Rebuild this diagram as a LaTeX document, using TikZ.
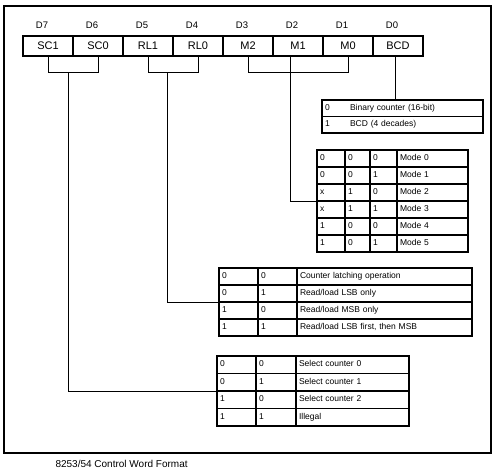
\documentclass[tikz,border=0pt]{standalone}
\usepackage{fontspec}
\setmainfont{Liberation Sans}
\usetikzlibrary{positioning,calc}

\tikzset{
  reg/.style={draw, line width=1.2pt, minimum width=50pt, minimum height=20pt, inner sep=0pt, outer sep=0pt, font=\fontsize{11}{13}\selectfont},
  bitlbl/.style={font=\fontsize{9.5}{11}\selectfont, inner sep=0pt},
  cell/.style={draw, line width=1.6pt, outer sep=0pt, minimum height=17pt, inner xsep=3pt, inner ysep=0pt, anchor=north west, align=left, text height=6.2pt, text depth=1.8pt, font=\fontsize{8.5}{10}\selectfont},
  wire/.style={line width=0.9pt},
}

\begin{document}
\begin{tikzpicture}[x=1pt,y=-1pt,node distance=50pt]
        \useasboundingbox (0,0) rectangle (497,471);
        \draw[line width=1.5pt] (4,6) rectangle (491,453);

        % control word register
        \node[reg] (sc1) at (48,46) {SC1};
        \node[reg, right of=sc1] (sc0) {SC0};
        \node[reg, right of=sc0] (rl1) {RL1};
        \node[reg, right of=rl1] (rl0) {RL0};
        \node[reg, right of=rl0] (m2) {M2};
        \node[reg, right of=m2] (m1) {M1};
        \node[reg, right of=m1] (m0) {M0};
        \node[reg, right of=m0] (bcd) {BCD};

        \node[bitlbl, above=7pt of sc1, xshift=-6pt] (d7) {D7};
        \node[bitlbl, above=7pt of sc0, xshift=-6pt] (d6) {D6};
        \node[bitlbl, above=7pt of rl1, xshift=-6pt] (d5) {D5};
        \node[bitlbl, above=7pt of rl0, xshift=-6pt] (d4) {D4};
        \node[bitlbl, above=7pt of m2, xshift=-6pt] (d3) {D3};
        \node[bitlbl, above=7pt of m1, xshift=-6pt] (d2) {D2};
        \node[bitlbl, above=7pt of m0, xshift=-6pt] (d1) {D1};
        \node[bitlbl, above=7pt of bcd, xshift=-6pt] (d0) {D0};

        % BCD table
        \node[cell, text width=155pt, minimum height=16.5pt] (fmt1) at (322,100) {\makebox[25pt][l]{0}Binary counter (16-bit)};
        \node[cell, text width=155pt, minimum height=16.5pt] (fmt2) at (322,116.5) {\makebox[25pt][l]{1}BCD (4 decades)};

        % mode table
        \foreach \a/\b/\c/\t [count=\i] in {0/0/0/Mode 0, 0/0/1/Mode 1, x/1/0/Mode 2, x/1/1/Mode 3, 1/0/0/Mode 4, 1/0/1/Mode 5}{
            \node[cell, text width=22pt] (mode\i-1) at (317,{150+17*(\i-1)}) {\a};
            \node[cell, text width=19pt] (mode\i-2) at (345,{150+17*(\i-1)}) {\b};
            \node[cell, text width=21pt] (mode\i-3) at (370,{150+17*(\i-1)}) {\c};
            \node[cell, text width=65pt] (mode\i-4) at (397,{150+17*(\i-1)}) {\t};
        }

        % read/write table
        \foreach \a/\b/\t [count=\i] in {0/0/{Counter latching operation}, 0/1/{Read/load LSB only}, 1/0/{Read/load MSB only}, 1/1/{Read/load LSB first, then MSB}}{
            \node[cell, text width=33pt] (rw\i-1) at (219,{268+17*(\i-1)}) {\a};
            \node[cell, text width=33pt] (rw\i-2) at (258,{268+17*(\i-1)}) {\b};
            \node[cell, text width=169pt] (rw\i-3) at (297,{268+17*(\i-1)}) {\t};
        }

        % select counter table
        \foreach \a/\b/\t [count=\i] in {0/0/{Select counter 0}, 0/1/{Select counter 1}, 1/0/{Select counter 2}, 1/1/{Illegal}}{
            \node[cell, text width=33pt, minimum height=17.5pt] (sel\i-1) at (217,{356+17.5*(\i-1)}) {\a};
            \node[cell, text width=34pt, minimum height=17.5pt] (sel\i-2) at (256,{356+17.5*(\i-1)}) {\b};
            \node[cell, text width=107pt, minimum height=17.5pt] (sel\i-3) at (296,{356+17.5*(\i-1)}) {\t};
        }

        % brackets and leads
        \draw[wire] (sc1.south) -- ++(0,16) -| (sc0.south);
        \draw[wire] (rl1.south) -- ++(0,16) -| (rl0.south);
        \draw[wire] (m2.south) -- ++(0,16) -| (m0.south);
        \coordinate (scjoin) at ($(sc1.south)!.4!(sc0.south) + (0,16)$);
        \coordinate (rljoin) at ($(rl1.south)!.38!(rl0.south) + (0,16)$);

        \draw[wire] (scjoin) |- (sel2-1.south west);
        \draw[wire] (rljoin) |- (rw2-1.south west);
        \draw[wire] ([xshift=-8pt]m1.south) |- (mode3-1.south west);
        \draw[wire] ([xshift=-3pt]bcd.south) -- ([xshift=-3pt]bcd.south |- fmt1.north);

        \node[anchor=west, font=\fontsize{10}{12}\selectfont] (caption) at (52,464) {8253/54 Control Word Format};
    \end{tikzpicture}
\end{document}
